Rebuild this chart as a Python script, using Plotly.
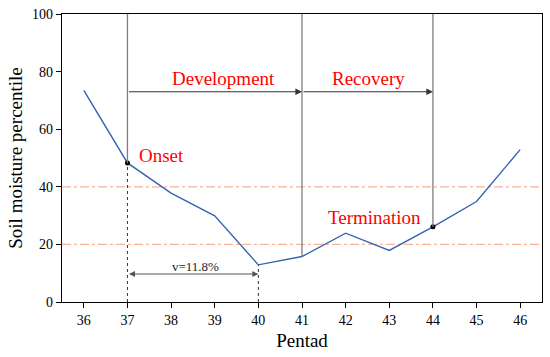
import plotly.graph_objects as go

pentads = [36, 37, 38, 39, 40, 41, 42, 43, 44, 45, 46]
percentile = [73.5, 48.3, 37.8, 29.9, 12.9, 15.8, 23.9, 17.9, 26.1, 34.9, 52.9]

thresholds = [20, 40]
onset_pentad, min_pentad, recovery_pentad, term_pentad = 37, 40, 41, 44
arrow_level = 73
v_level = 9.7

x_ticks = list(range(36, 47))
y_ticks = [0, 20, 40, 60, 80, 100]

val = dict(zip(pentads, percentile))
FONT = "Liberation Serif"

fig = go.Figure()

# threshold dash-dot lines
for t in thresholds:
    fig.add_shape(type="line", xref="paper", yref="y", x0=0, x1=1, y0=t, y1=t,
                  line=dict(color="#F7B49A", width=1.2, dash="dashdot"), layer="below")

# vertical solid lines from top down to curve
for p in [onset_pentad, recovery_pentad, term_pentad]:
    fig.add_shape(type="line", xref="x", yref="y", x0=p, x1=p, y0=val[p], y1=100,
                  line=dict(color="#7f7f7f", width=1.3))

# dotted lines down to axis
for p in [onset_pentad, min_pentad]:
    fig.add_shape(type="line", xref="x", yref="y", x0=p, x1=p, y0=0, y1=val[p],
                  line=dict(color="#333333", width=1, dash="dot"))

fig.add_trace(go.Scatter(x=pentads, y=percentile, mode="lines",
                         line=dict(color="#3463B3", width=1.4), showlegend=False))
fig.add_trace(go.Scatter(x=[onset_pentad, term_pentad], y=[val[onset_pentad], val[term_pentad]],
                         mode="markers", marker=dict(color="black", size=5), showlegend=False))

# stage arrows
for a, b in [(onset_pentad, recovery_pentad), (recovery_pentad, term_pentad)]:
    fig.add_annotation(x=b, y=arrow_level, ax=a, ay=arrow_level, xref="x", yref="y",
                       axref="x", ayref="y", text="", showarrow=True, arrowhead=2,
                       arrowsize=1.2, arrowwidth=1.1, arrowcolor="#333333", standoff=0)

# duration double arrow
fig.add_annotation(x=min_pentad, y=v_level, ax=onset_pentad, ay=v_level, xref="x", yref="y",
                   axref="x", ayref="y", text="", showarrow=True, arrowhead=2, arrowside="end+start",
                   arrowsize=1.1, arrowwidth=1.1, arrowcolor="#555555", standoff=0, startstandoff=0)

red = dict(family=FONT, size=19, color="#FF0000")
fig.add_annotation(x=39.2, y=77.5, text="Development", showarrow=False, font=red, xref="x", yref="y")
fig.add_annotation(x=42.52, y=77.5, text="Recovery", showarrow=False, font=red, xref="x", yref="y")
fig.add_annotation(x=37.77, y=51, text="Onset", showarrow=False, font=red, xref="x", yref="y")
fig.add_annotation(x=42.65, y=29.5, text="Termination", showarrow=False, font=red, xref="x", yref="y")
fig.add_annotation(x=38.57, y=12.3, text="v=11.8%", showarrow=False,
                   font=dict(family=FONT, size=13, color="#222222"), xref="x", yref="y")

fig.update_layout(
    width=550, height=357,
    margin=dict(l=62, r=8, t=14, b=55),
    paper_bgcolor="white", plot_bgcolor="white",
    font=dict(family=FONT, size=14, color="black"),
    showlegend=False,
)
fig.update_xaxes(range=[35.5, 46.5], tickvals=x_ticks, ticks="outside", ticklen=5,
                 tickcolor="black", showline=True, linecolor="black", linewidth=1.3,
                 mirror=True, showgrid=False, zeroline=False, automargin=False,
                 tickfont=dict(family=FONT, size=14),
                 title=dict(text="Pentad", font=dict(family=FONT, size=19), standoff=6))
fig.update_yaxes(range=[0, 100], tickvals=y_ticks, ticks="outside", ticklen=5,
                 tickcolor="black", showline=True, linecolor="black", linewidth=1.3,
                 mirror=True, showgrid=False, zeroline=False, automargin=False,
                 tickfont=dict(family=FONT, size=14),
                 title=dict(text="Soil moisture percentile", font=dict(family=FONT, size=19), standoff=4))

fig.write_html("out.html", config={"displayModeBar": False},
               post_script="document.body.style.margin='0';document.body.style.padding='0';")
